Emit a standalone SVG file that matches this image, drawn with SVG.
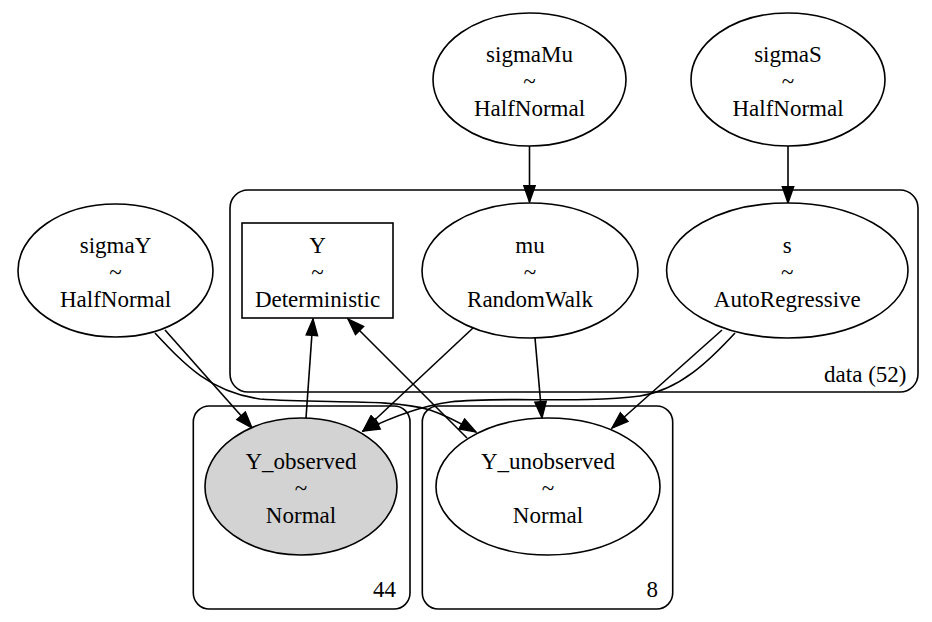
<svg xmlns="http://www.w3.org/2000/svg" width="932" height="622" viewBox="0 0 932 622">
<style>
.n{fill:#fff;stroke:#000;stroke-width:1.6}
.obs{fill:#d3d3d3;stroke:#000;stroke-width:1.6}
.cl{fill:none;stroke:#000;stroke-width:1.6}
.e{fill:none;stroke:#000;stroke-width:1.6;marker-end:url(#ah)}
text{font-family:"Liberation Serif","Times New Roman",serif;font-size:23px;fill:#000}
.c{text-anchor:middle}
.r{text-anchor:end}
</style>
<defs>
<marker id="ah" markerUnits="userSpaceOnUse" viewBox="-1 -1 18.4 13.5" markerWidth="18.4" markerHeight="13.5" refX="16.4" refY="5.75" orient="auto">
<path d="M0,0 L16.4,5.75 L0,11.5 z" fill="#000" stroke="#000" stroke-width="1.4"/>
</marker>
</defs>
<rect x="0" y="0" width="932" height="622" fill="#fff"/>
<g id="clusters">
<g id="cluster_data"><rect class="cl" x="230" y="190" width="688" height="202" rx="18" ry="18"/><text class="r" x="906.5" y="382">data (52)</text></g>
<g id="cluster_44"><rect class="cl" x="193.3" y="406" width="216.7" height="203" rx="16" ry="16"/><text class="r" x="396" y="597">44</text></g>
<g id="cluster_8"><rect class="cl" x="422.3" y="406" width="250.4" height="203" rx="16" ry="16"/><text class="r" x="658" y="597">8</text></g>
</g>
<g id="edges">
<path class="e" d="M529.5,146 L529.5,202"/>
<path class="e" d="M788,146 L788,203"/>
<path class="e" d="M165,330 L252,428"/>
<path class="e" d="M155,333 C185,365 210,392 260,399 C320,404 390,398 430,410 C448,416 462,424 476,432"/>
<path class="e" d="M306,418 L313,319"/>
<path class="e" d="M467,438 L348,319"/>
<path class="e" d="M473,328 L363,431"/>
<path class="e" d="M535,338 L542,418"/>
<path class="e" d="M735,333 C710,360 680,390 640,396 C580,404 500,396 450,402 C420,406 390,418 363,431"/>
<path class="e" d="M722,330 L612,428"/>
</g>
<g id="sigmaMu"><ellipse class="n" cx="529.5" cy="79.5" rx="96.5" ry="66.5"/><text class="c" x="529.5" y="61.5">sigmaMu</text><text class="c" x="529.5" y="88.5">~</text><text class="c" x="529.5" y="116">HalfNormal</text></g>
<g id="sigmaS"><ellipse class="n" cx="788" cy="79.5" rx="97" ry="66.5"/><text class="c" x="788" y="61.5">sigmaS</text><text class="c" x="788" y="88.5">~</text><text class="c" x="788" y="116">HalfNormal</text></g>
<g id="sigmaY"><ellipse class="n" cx="115.5" cy="270.5" rx="97.5" ry="66.5"/><text class="c" x="115.5" y="252.5">sigmaY</text><text class="c" x="115.5" y="279.5">~</text><text class="c" x="115.5" y="307">HalfNormal</text></g>
<g id="Y"><rect class="n" x="242" y="223" width="151" height="95"/><text class="c" x="317.5" y="252.5">Y</text><text class="c" x="317.5" y="279.5">~</text><text class="c" x="317.5" y="307">Deterministic</text></g>
<g id="mu"><ellipse class="n" cx="530" cy="270.5" rx="108" ry="67.5"/><text class="c" x="530" y="252.5">mu</text><text class="c" x="530" y="279.5">~</text><text class="c" x="530" y="307">RandomWalk</text></g>
<g id="s"><ellipse class="n" cx="787.3" cy="270.5" rx="120.7" ry="67.5"/><text class="c" x="787.3" y="252.5">s</text><text class="c" x="787.3" y="279.5">~</text><text class="c" x="787.3" y="307">AutoRegressive</text></g>
<g id="Y_observed"><ellipse class="obs" cx="301" cy="486.5" rx="96" ry="68.5"/><text class="c" x="301" y="468.5">Y_observed</text><text class="c" x="301" y="495.5">~</text><text class="c" x="301" y="523">Normal</text></g>
<g id="Y_unobserved"><ellipse class="n" cx="548" cy="486.5" rx="112" ry="68.5"/><text class="c" x="548" y="468.5">Y_unobserved</text><text class="c" x="548" y="495.5">~</text><text class="c" x="548" y="523">Normal</text></g>
</svg>
